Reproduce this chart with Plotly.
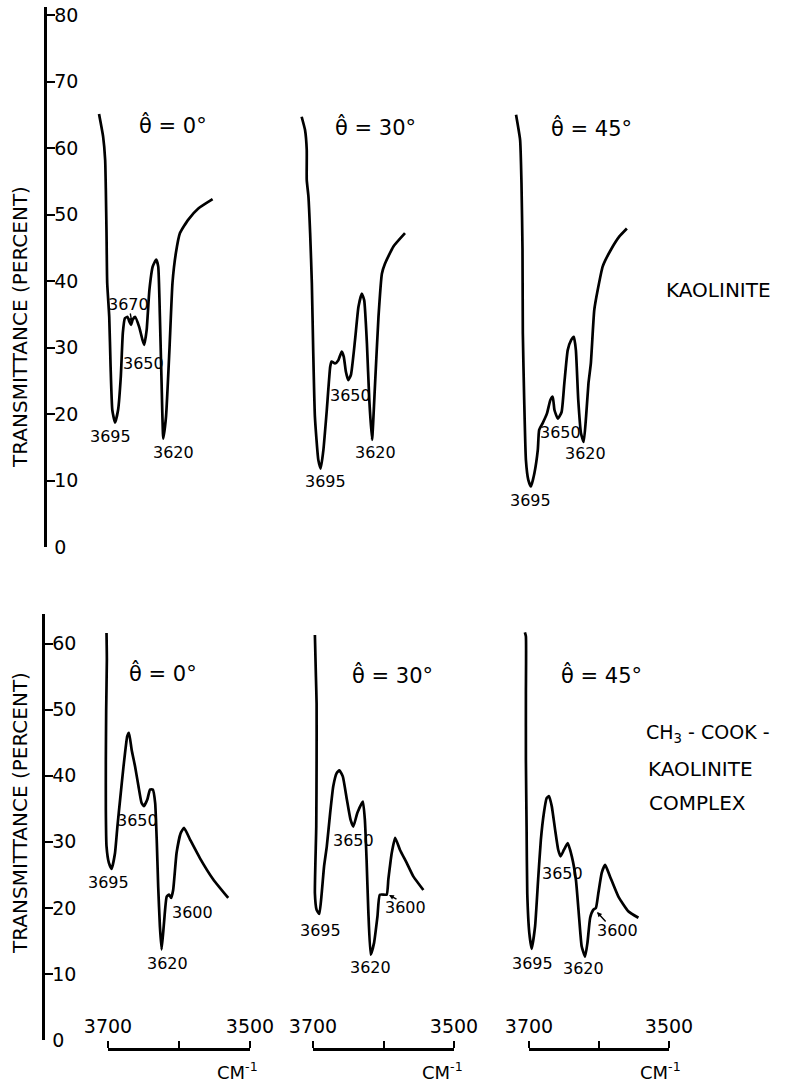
import plotly.graph_objects as go

W, H = 785, 1083

# ---------------- data ----------------
angles = ["0°", "30°", "45°"]
y_ticks_top = [0, 10, 20, 30, 40, 50, 60, 70, 80]
y_ticks_bottom = [0, 10, 20, 30, 40, 50, 60]
scale_major = [3700, 3500]
scale_minor = [3600]

# Kaolinite, wavenumber (cm-1) and transmittance (%)
kao0_wn = [3717, 3711, 3708, 3707, 3706, 3705, 3702, 3700, 3697.5, 3693.5, 3689, 3685, 3682, 3679,
           3675, 3672.5, 3670, 3667.5, 3664, 3658, 3653, 3650.5, 3647, 3643, 3638, 3633, 3630, 3627.5,
           3625, 3622.5, 3618.5, 3613.5, 3609, 3604, 3598, 3586, 3571, 3550]
kao0_T = [65.1, 61.7, 58.2, 53.7, 47.2, 39.7, 34.6, 27.1, 20.6, 18.7, 20.6, 25.6, 32.2, 34.4,
          34.6, 33.9, 33.4, 34.2, 34.6, 33.1, 31.1, 30.4, 32.6, 38.6, 42.2, 43.2, 42.2, 34.6,
          24.6, 16.3, 19.6, 29.6, 39.7, 44.2, 47.2, 49.2, 50.9, 52.3]

kao30_wn = [3722, 3717, 3714.5, 3714.5, 3712, 3709.5, 3707, 3705, 3702.5, 3697.5, 3694, 3690, 3685,
            3680, 3678, 3673, 3668, 3663, 3660, 3657, 3653.5, 3649.5, 3643.5, 3638.5, 3633.5, 3630,
            3626, 3622.5, 3618.5, 3614, 3609, 3604, 3599.5, 3587, 3570]
kao30_T = [64.7, 62.7, 59.7, 55.2, 52.7, 47.2, 39.7, 29.6, 19.6, 13.1, 11.8, 14.6, 20.6,
           27.1, 27.9, 27.6, 28.1, 29.4, 28.6, 26.4, 25.1, 25.9, 31.1, 36.1, 38.1, 37.1,
           30.6, 22.1, 16.1, 24.6, 34.6, 41.1, 42.6, 45.2, 47.2]

kao45_wn = [3717, 3711, 3709, 3707.5, 3707, 3705, 3702.5, 3699, 3695, 3690, 3685, 3683, 3678, 3671.5,
            3666.5, 3663, 3660.5, 3655.5, 3650, 3646, 3641, 3636, 3632, 3629, 3625.5, 3621.5, 3617.5,
            3614, 3610.5, 3607, 3602, 3597, 3589.5, 3577.5, 3565, 3554]
kao45_T = [65.0, 61.2, 54.7, 44.7, 32.1, 22.1, 13.1, 10.1, 9.1, 11.1, 14.6, 17.6, 18.6, 20.1,
           22.1, 22.6, 20.6, 19.3, 20.3, 24.6, 29.6, 31.1, 31.6, 29.6, 22.1, 17.1, 15.8,
           19.6, 24.6, 27.6, 35.6, 38.6, 42.2, 44.7, 46.7, 47.9]

# CH3-COOK-kaolinite complex
cpx0_wn = [3706, 3705.5, 3706.5, 3707, 3707, 3706, 3702.5, 3698.5, 3693.5, 3690, 3686, 3681, 3675.5,
           3673, 3669, 3664, 3659, 3654.5, 3651, 3646, 3642, 3638, 3634.5, 3632, 3630, 3627.5, 3625,
           3621.5, 3617.5, 3614, 3611, 3608, 3603, 3597, 3592, 3583, 3568.5, 3549, 3527]
cpx0_T = [61.6, 57.6, 50.0, 42.4, 34.9, 29.3, 26.8, 25.9, 28.3, 32.3, 36.4, 41.4, 46.0,
          46.5, 43.9, 41.4, 38.4, 35.9, 35.4, 36.4, 37.9, 37.9, 35.9, 29.8, 23.2, 17.2, 13.7,
          17.7, 21.7, 22.0, 21.5, 22.7, 28.3, 31.3, 32.1, 30.3, 27.5, 24.3, 21.5]

cpx30_wn = [3702.5, 3701, 3700, 3700, 3700.5, 3702.5, 3700, 3696, 3692.5, 3689, 3685, 3680, 3675.5,
            3670.5, 3666.5, 3661.5, 3655.5, 3650, 3646, 3640, 3632, 3629, 3626.5, 3624, 3620.5,
            3615.5, 3610.5, 3607, 3597, 3594.5, 3589.5, 3584.5, 3577.5, 3567.5, 3558, 3543]
cpx30_T = [61.3, 55.0, 50.9, 42.4, 32.3, 22.2, 19.7, 19.1, 22.2, 26.3, 29.3, 34.4, 38.4,
           40.4, 40.8, 39.9, 36.4, 33.3, 32.3, 34.4, 36.1, 33.3, 27.3, 19.7, 12.9,
           14.7, 18.7, 22.0, 22.0, 24.3, 28.3, 30.6, 28.8, 26.8, 24.8, 22.7]

cpx45_wn = [3704, 3702.5, 3702.5, 3702.5, 3701.5, 3700.5, 3697.5, 3694, 3689, 3684.5, 3680.5, 3676,
            3672, 3668.5, 3664.5, 3659.5, 3655, 3651.5, 3646.5, 3641, 3635, 3629, 3624, 3620.5,
            3615.5, 3612, 3608, 3603.5, 3599.5, 3596, 3591, 3586, 3579, 3566.5, 3552, 3537]
cpx45_T = [61.7, 61.1, 52.5, 42.4, 32.3, 22.2, 16.2, 13.8, 17.2, 24.3, 30.3, 34.4,
           36.6, 36.9, 35.4, 31.8, 28.8, 27.8, 28.8, 29.8, 27.8, 24.3, 18.2, 14.2,
           12.6, 14.7, 18.5, 19.7, 20.0, 22.2, 25.3, 26.5, 24.8, 21.7, 19.5, 18.5]

kao_wn = [kao0_wn, kao30_wn, kao45_wn]
kao_T = [kao0_T, kao30_T, kao45_T]
cpx_wn = [cpx0_wn, cpx30_wn, cpx45_wn]
cpx_T = [cpx0_T, cpx30_T, cpx45_T]

# ---------------- layout helpers (pixel -> paper) ----------------
def X(px):
    return px / W


def Y(py):
    return 1 - py / H


PX_PER_CM = 0.68
col_p3695 = [114, 320, 531]          # pixel column of 3695 cm-1 for each angle column
WN_LEFT, WN_RIGHT = 3730, 3430
FONT = "DejaVu Sans"

fig = go.Figure()
line_style = dict(color="black", width=2.7, shape="spline", smoothing=0.45)

for i in range(3):
    xa = "x" if i == 0 else f"x{i + 1}"
    fig.add_trace(go.Scatter(x=kao_wn[i], y=kao_T[i], xaxis=xa, yaxis="y", mode="lines",
                             line=line_style, hoverinfo="skip", showlegend=False))
    fig.add_trace(go.Scatter(x=cpx_wn[i], y=cpx_T[i], xaxis=xa, yaxis="y2", mode="lines",
                             line=line_style, hoverinfo="skip", showlegend=False))

# invisible traces to activate the wavenumber scale-bar axes
for i in range(3):
    fig.add_trace(go.Scatter(x=scale_major, y=[None, None],
                             xaxis=f"x{i + 4}", yaxis="y2", mode="lines",
                             hoverinfo="skip", showlegend=False))

layout = dict(
    width=W, height=H, autosize=False,
    margin=dict(l=0, r=0, t=0, b=0, pad=0, autoexpand=False),
    paper_bgcolor="white", plot_bgcolor="rgba(0,0,0,0)",
    showlegend=False,
    font=dict(family=FONT, color="black"),
)

for i, p in enumerate(col_p3695):
    key = "xaxis" if i == 0 else f"xaxis{i + 1}"
    layout[key] = dict(
        domain=[X(p - (WN_LEFT - 3695) * PX_PER_CM), X(p + (3695 - WN_RIGHT) * PX_PER_CM)],
        range=[WN_LEFT, WN_RIGHT], visible=False, anchor="y", automargin=False,
    )

yax_common = dict(
    anchor="free", showline=True, linecolor="black", linewidth=3,
    ticks="inside", ticklen=8, tickwidth=2, tickcolor="black",
    ticklabelposition="inside", ticklabeloverflow="allow",
    tickfont=dict(size=19, family=FONT, color="black"),
    showgrid=False, zeroline=False, fixedrange=True, automargin=False,
)
layout["yaxis"] = dict(yax_common, domain=[Y(547), Y(7)], range=[0, (547 - 7) / 6.65],
                       tickvals=y_ticks_top, position=X(45))
layout["yaxis2"] = dict(yax_common, domain=[Y(1040), Y(614)], range=[0, (1040 - 614) / 6.607],
                        tickvals=y_ticks_bottom, position=X(43))

bar_px = [(108, 250), (313, 454), (529, 669)]
for i, (a, b) in enumerate(bar_px):
    layout[f"xaxis{i + 4}"] = dict(
        domain=[X(a), X(b)], range=[scale_major[0], scale_major[-1]],
        anchor="free", position=Y(1049), side="top",
        showline=True, linecolor="black", linewidth=2.5,
        ticks="outside", ticklen=7, tickwidth=2, tickcolor="black",
        tickvals=scale_major,
        minor=dict(tickvals=scale_minor, ticks="outside", ticklen=7, tickwidth=2, tickcolor="black"),
        tickfont=dict(size=19, family=FONT, color="black"),
        showgrid=False, zeroline=False, fixedrange=True, automargin=False,
    )

ann = []


def text(t, px, py, size=15, xanchor="center", angle=0):
    ann.append(dict(text=t, x=X(px), y=Y(py), xref="paper", yref="paper", showarrow=False,
                    xanchor=xanchor, yanchor="middle", textangle=angle,
                    font=dict(size=size, family=FONT, color="black")))


def arrow(hx, hy, tx, ty):
    ann.append(dict(text="", x=X(hx), y=Y(hy), xref="paper", yref="paper", showarrow=True,
                    ax=tx - hx, ay=ty - hy, arrowhead=2, arrowsize=0.7, arrowwidth=1.4,
                    arrowcolor="black"))


theta = "\u03b8\u0302"
for (px, py), a in zip([(173, 125), (375, 127), (591, 128)], angles):
    text(f"{theta} = {a}", px, py, size=21)
for (px, py), a in zip([(163, 673), (392, 675), (601, 675)], angles):
    text(f"{theta} = {a}", px, py, size=21)

peak_labels = [
    ("3670", 128, 304), ("3650", 143, 363), ("3695", 110, 437), ("3620", 173, 452),
    ("3650", 350, 395), ("3695", 325, 482), ("3620", 375, 452),
    ("3650", 560, 433), ("3620", 585, 453), ("3695", 530, 500),
    ("3650", 137, 820), ("3695", 108, 882), ("3600", 192, 912), ("3620", 167, 963),
    ("3650", 353, 840), ("3600", 405, 907), ("3695", 320, 930), ("3620", 370, 967),
    ("3650", 562, 873), ("3600", 617, 930), ("3695", 532, 963), ("3620", 583, 968),
]
for t, px, py in peak_labels:
    text(t, px, py, size=16)

arrow(132, 323, 130, 312)
arrow(597, 912, 607, 923)
arrow(389, 895, 398, 900)

text("KAOLINITE", 664, 290, size=20, xanchor="left")
text("CH<sub>3</sub> - COOK -", 644, 733, size=19, xanchor="left")
text("KAOLINITE", 646, 769, size=20, xanchor="left")
text("COMPLEX", 647, 803, size=20, xanchor="left")

text("TRANSMITTANCE (PERCENT)", 20, 327, size=20, angle=-90)
text("TRANSMITTANCE (PERCENT)", 20, 813, size=20, angle=-90)

for px in [237, 442, 660]:
    text("CM<sup>-1</sup>", px, 1071, size=18)

layout["annotations"] = ann
fig.update_layout(**layout)

# remove the browser's default 8px page margin so the figure fills the window exactly
fig.write_html("out.html", config={"displayModeBar": False, "staticPlot": True},
               post_script="document.body.style.margin='0px';document.body.style.overflow='hidden';")
